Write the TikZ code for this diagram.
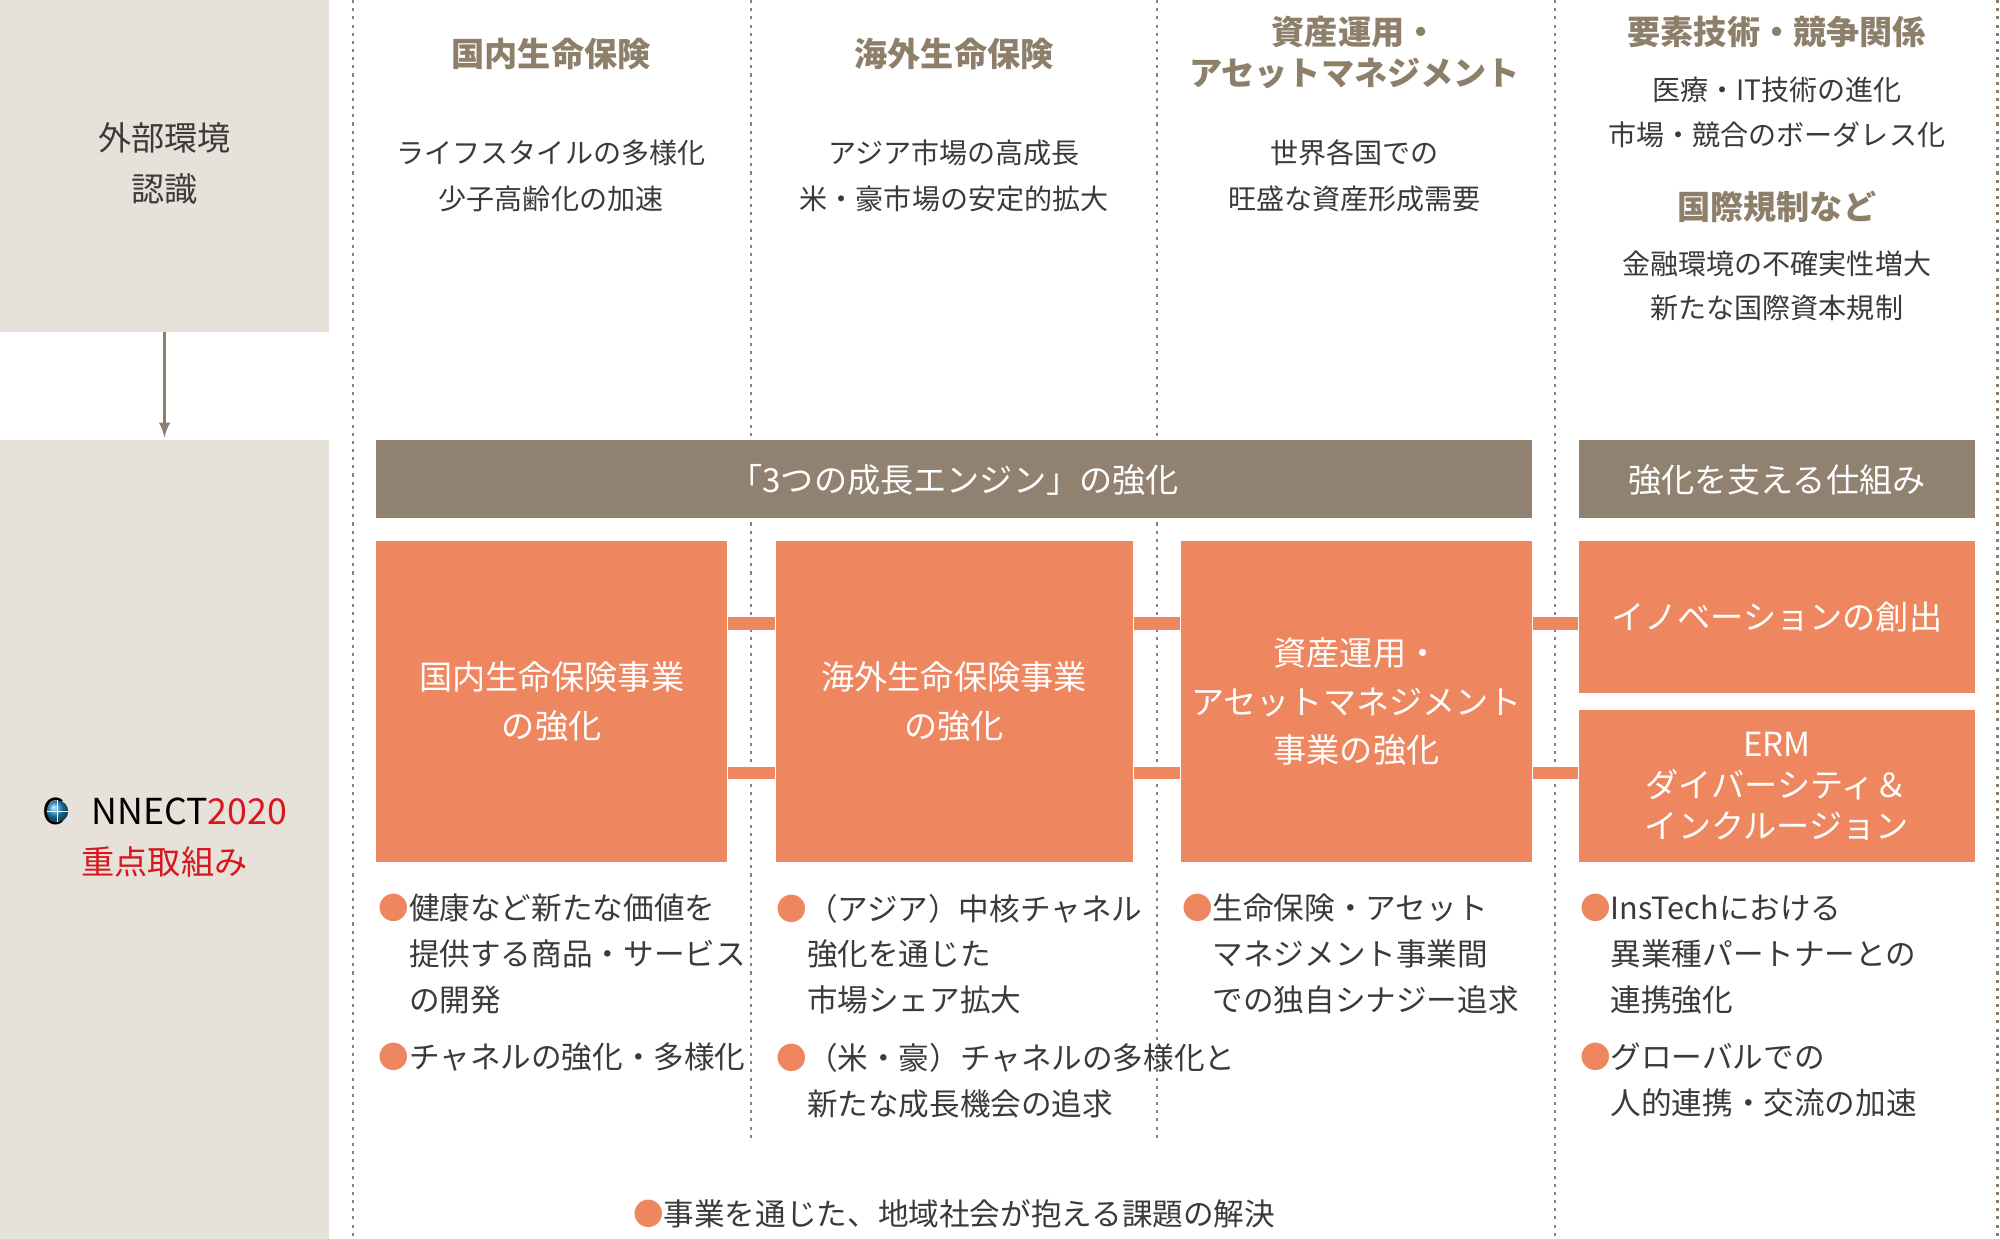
\documentclass[tikz,border=0pt]{standalone}
\usepackage{fontspec}
\setmainfont{Noto Sans CJK JP}
\definecolor{sand}{HTML}{E6E1D9}
\definecolor{brown}{HTML}{918170}
\definecolor{hdr}{HTML}{8E7F6A}
\definecolor{ink}{HTML}{3A3A3A}
\definecolor{orng}{HTML}{EE875F}
\definecolor{logored}{HTML}{D7161E}
\definecolor{globe}{HTML}{2A8FC8}
\tikzset{every picture/.style={line width=0.75pt}}
\tikzset{
  head/.style={text=hdr,font=\fontsize{13}{16}\selectfont\bfseries,align=center,inner sep=0pt},
  env/.style={text=ink,font=\fontsize{11}{18}\selectfont,align=center,inner sep=0pt},
  engine/.style={fill=orng,text=white,font=\fontsize{13}{19}\selectfont,align=center,inner sep=0pt},
  bar/.style={fill=brown,text=white,font=\fontsize{13}{16}\selectfont},
  link/.style={draw=orng,line width=5pt},
  sep/.style={draw=hdr,dash pattern=on 1.2pt off 2pt,line width=0.9pt},
  point/.style={text=ink,font=\fontsize{12}{18}\selectfont,align=left,anchor=north west,inner sep=0pt},
}
\newcommand{\bul}{\textcolor{orng}{●}}
\begin{document}
\begin{tikzpicture}[x=0.5pt,y=-0.5pt]
\useasboundingbox (0,0) rectangle (1568,971);

% left column
\fill [sand] (0,0) rectangle (258,260);
\fill [sand] (0,345) rectangle (258,971);
\node (ext) [env,font=\fontsize{13}{20}\selectfont] at (129,128) {外部環境\\認識};
\coordinate (arrtop) at (129,260);
\coordinate (arrbot) at (129,343);
\draw [->,>=latex,draw=hdr,line width=1pt] (arrtop) -- (arrbot);
\node (logo) [inner sep=0pt,font=\fontsize{14}{14}\selectfont] at (129,636)
  {C\hspace{0.75em}NNECT\textcolor{logored}{2020}};
\shade [ball color=globe] (45,636) circle (8.5);
\draw [white,line width=0.4pt] (36.5,636) -- (53.5,636) (45,627.5) -- (45,644.5);
\node (focus) [text=logored,font=\fontsize{13}{16}\selectfont] at (129,676) {重点取組み};

% separators
\draw [sep] (277,0) -- (277,971);
\draw [sep] (589,0) -- (589,892);
\draw [sep] (907,0) -- (907,892);
\draw [sep] (1219,0) -- (1219,971);
\draw [sep] (1566,0) -- (1566,971);

% environment
\node (h1) [head] at (432,42) {国内生命保険};
\node (h2) [head] at (748,42) {海外生命保険};
\node (h3) [head,font=\fontsize{13}{16}\selectfont\bfseries] at (1062,41) {資産運用・\\アセットマネジメント};
\node (h4) [head] at (1393,25) {要素技術・競争関係};
\node (e1) [env] at (432,138) {ライフスタイルの多様化\\少子高齢化の加速};
\node (e2) [env] at (748,138) {アジア市場の高成長\\米・豪市場の安定的拡大};
\node (e3) [env] at (1062,138) {世界各国での\\旺盛な資産形成需要};
\node (e4) [env,font=\fontsize{11}{17.5}\selectfont] at (1393,88) {医療・IT技術の進化\\市場・競合のボーダレス化};
\node (h5) [head] at (1393,162) {国際規制など};
\node (e5) [env,font=\fontsize{11}{17.5}\selectfont] at (1393,224) {金融環境の不確実性増大\\新たな国際資本規制};

% bars
\fill [brown] (295,345) rectangle (1201,406);
\node (engines) [text=white,font=\fontsize{13}{16}\selectfont] at (748,376) {「3つの成長エンジン」の強化};
\fill [brown] (1238,345) rectangle (1548,406);
\node (support) [text=white,font=\fontsize{13}{16}\selectfont] at (1393,376) {強化を支える仕組み};

% engine boxes
\node (d1) [engine,minimum width=137.5pt,minimum height=126pt] at (432.5,550) {国内生命保険事業\\の強化};
\node (d2) [engine,minimum width=140pt,minimum height=126pt] at (748,550) {海外生命保険事業\\の強化};
\node (d3) [engine,minimum width=137.5pt,minimum height=126pt] at (1063.5,550) {資産運用・\\アセットマネジメント\\事業の強化};
\node (inno) [engine,minimum width=155pt,minimum height=59.5pt] at (1393,483.5) {イノベーションの創出};
\node (erm) [engine,minimum width=155pt,minimum height=59.5pt,font=\fontsize{13}{16}\selectfont] at (1393,616.5) {ERM\\ダイバーシティ＆\\インクルージョン};

\draw [link] ([yshift=30.5pt]d1.east) -- ([yshift=30.5pt]d2.west);
\draw [link] ([yshift=-28pt]d1.east) -- ([yshift=-28pt]d2.west);
\draw [link] ([yshift=30.5pt]d2.east) -- ([yshift=30.5pt]d3.west);
\draw [link] ([yshift=-28pt]d2.east) -- ([yshift=-28pt]d3.west);
\draw [link] ([yshift=30.5pt]d3.east) -- ([yshift=30.5pt]d3.east -| inno.west);
\draw [link] ([yshift=-28pt]d3.east) -- ([yshift=-28pt]d3.east -| erm.west);

% points
\node (p1) [point] at (296,700) {\bul 健康など新たな価値を\\\hspace{1em}提供する商品・サービス\\\hspace{1em}の開発};
\node (p2) [point] at (296,817) {\bul チャネルの強化・多様化};
\node (p3) [point] at (608,700) {\bul（アジア）中核チャネル\\\hspace{1em}強化を通じた\\\hspace{1em}市場シェア拡大};
\node (p4) [point] at (608,817) {\bul（米・豪）チャネルの多様化と\\\hspace{1em}新たな成長機会の追求};
\node (p5) [point] at (926,700) {\bul 生命保険・アセット\\\hspace{1em}マネジメント事業間\\\hspace{1em}での独自シナジー追求};
\node (p6) [point] at (1238,700) {\bul InsTechにおける\\\hspace{1em}異業種パートナーとの\\\hspace{1em}連携強化};
\node (p7) [point] at (1238,817) {\bul グローバルでの\\\hspace{1em}人的連携・交流の加速};
\node (p8) [point,anchor=center] at (748,952) {\bul 事業を通じた、地域社会が抱える課題の解決};
\end{tikzpicture}
\end{document}
